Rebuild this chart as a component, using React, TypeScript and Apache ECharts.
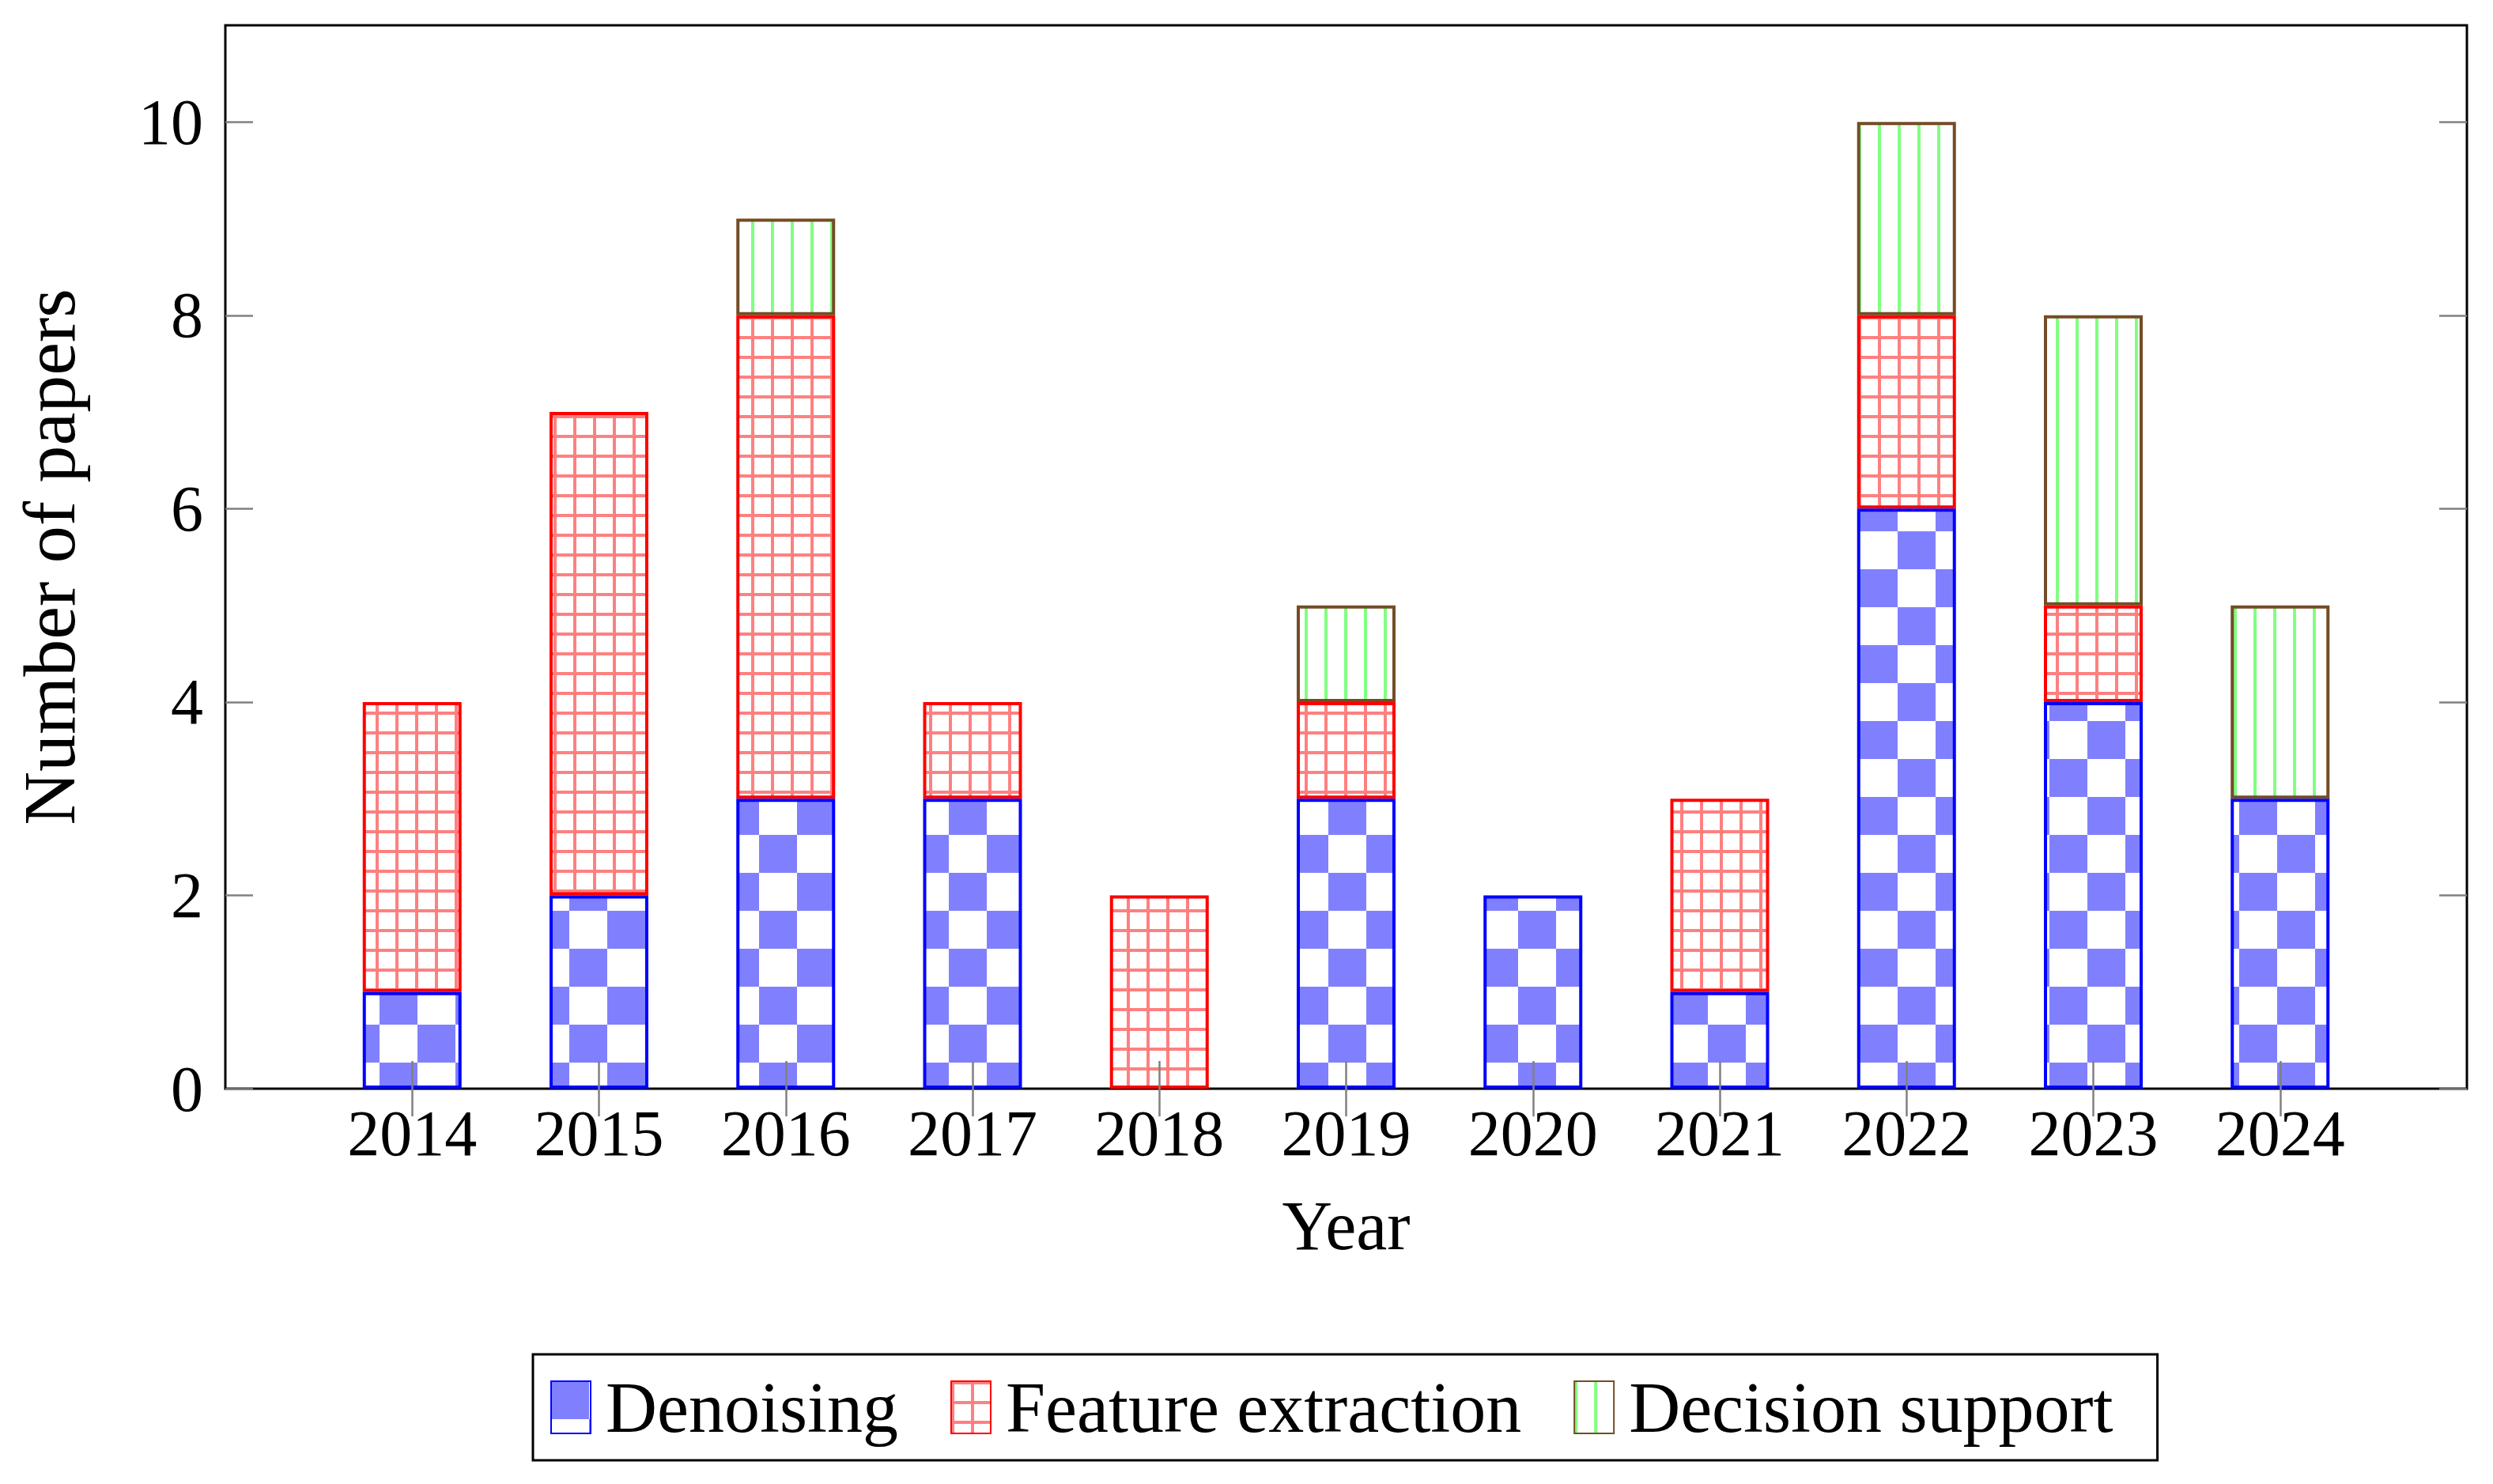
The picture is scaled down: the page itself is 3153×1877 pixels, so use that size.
import React, { useEffect, useRef } from 'react';
import * as echarts from 'echarts';

const years = ['2014', '2015', '2016', '2017', '2018', '2019', '2020', '2021', '2022', '2023', '2024'];
const denoising = [1, 2, 3, 3, 0, 3, 2, 1, 6, 4, 3];
const featureExtraction = [3, 5, 5, 1, 2, 1, 0, 2, 2, 1, 0];
const decisionSupport = [0, 0, 1, 0, 0, 1, 0, 0, 2, 3, 2];
const yTicks = [0, 2, 4, 6, 8, 10];
// padding categories so that the axis spans one year beyond each end
const padBefore = '2013';
const padAfter = '2025';

const FONT = 'Liberation Serif';

function makeTile(w: number, h: number, draw: (c: CanvasRenderingContext2D) => void) {
  const cv = document.createElement('canvas');
  cv.width = w;
  cv.height = h;
  const ctx = cv.getContext('2d')!;
  ctx.fillStyle = '#ffffff';
  ctx.fillRect(0, 0, w, h);
  draw(ctx);
  return cv;
}

export default function App() {
  const ref = useRef<HTMLDivElement>(null);
  useEffect(() => {
    document.body.style.margin = '0';
    const chart = echarts.init(ref.current!, null, { renderer: 'svg' });

    const checker = makeTile(96, 96, (c) => {
      c.fillStyle = '#8080ff';
      c.fillRect(0, 0, 48, 48);
      c.fillRect(48, 48, 48, 48);
    });
    const grid = makeTile(25, 25, (c) => {
      c.fillStyle = '#ff8080';
      c.fillRect(0, 0, 25, 4);
      c.fillRect(0, 0, 4, 25);
    });
    const vlines = makeTile(25, 25, (c) => {
      c.fillStyle = '#80ff80';
      c.fillRect(0, 0, 4, 25);
    });
    const pat = (cv: HTMLCanvasElement) => ({
      image: cv.toDataURL(),
      repeat: 'repeat',
      imageWidth: cv.width,
      imageHeight: cv.height,
    });

    const categories = [padBefore, ...years, padAfter];
    const toData = (arr: number[]) => [null, ...arr.map((v) => (v === 0 ? null : v)), null];
    const isPad = (v: string) => v === padBefore || v === padAfter;

    const tickStyle = { color: '#808080', width: 2.5 };
    const baseX = {
      type: 'category',
      data: categories,
      boundaryGap: false,
      z: 10,
      axisLine: { show: false },
      splitLine: { show: false },
      axisTick: {
        show: true,
        inside: true,
        length: 35,
        lineStyle: tickStyle,
        interval: (_i: number, v: string) => !isPad(v),
      },
    };
    const baseY = {
      type: 'value',
      min: 0,
      max: 11,
      z: 10,
      axisLine: { show: false },
      splitLine: { show: false },
      axisTick: { show: true, inside: true, length: 35, lineStyle: tickStyle, customValues: yTicks },
    };

    chart.setOption({
      animation: false,
      backgroundColor: '#ffffff',
      textStyle: { fontFamily: FONT },
      grid: {
        left: 285,
        right: 33,
        top: 32,
        bottom: 500,
        show: true,
        borderColor: '#000000',
        borderWidth: 3,
        backgroundColor: 'transparent',
      },
      legend: {
        left: 674,
        top: 1713,
        orient: 'horizontal',
        icon: 'rect',
        itemWidth: 50,
        itemHeight: 66,
        itemGap: 66,
        borderColor: '#000000',
        borderWidth: 3,
        padding: [22, 56, 22, 22],
        textStyle: { fontFamily: FONT, fontSize: 90, color: '#000000', padding: [0, 0, 0, 14] },
        data: ['Denoising', 'Feature extraction', 'Decision support'],
      },
      xAxis: [
        {
          ...baseX,
          position: 'bottom',
          axisLabel: {
            show: true,
            interval: (_i: number, v: string) => !isPad(v),
            fontSize: 82,
            color: '#000000',
            fontFamily: FONT,
            margin: 15,
          },
          name: 'Year',
          nameLocation: 'middle',
          nameGap: 129,
          nameTextStyle: { fontSize: 88, color: '#000000', fontFamily: FONT },
        },
        { ...baseX, position: 'top', axisLabel: { show: false } },
      ],
      yAxis: [
        {
          ...baseY,
          position: 'left',
          axisLabel: {
            show: true,
            customValues: yTicks,
            fontSize: 82,
            color: '#000000',
            fontFamily: FONT,
            margin: 28,
          },
          name: 'Number of papers',
          nameLocation: 'middle',
          nameGap: 176,
          nameRotate: 90,
          nameTextStyle: { fontSize: 94, color: '#000000', fontFamily: FONT },
        },
        { ...baseY, position: 'right', axisLabel: { show: false } },
      ],
      series: [
        {
          name: 'Denoising',
          type: 'bar',
          stack: 'total',
          barWidth: 125,
          z: 4,
          data: toData(denoising),
          itemStyle: { color: pat(checker), borderColor: '#0000ff', borderWidth: 4 },
        },
        {
          name: 'Feature extraction',
          type: 'bar',
          stack: 'total',
          barWidth: 125,
          z: 3,
          data: toData(featureExtraction),
          itemStyle: { color: pat(grid), borderColor: '#ff0000', borderWidth: 4 },
        },
        {
          name: 'Decision support',
          type: 'bar',
          stack: 'total',
          barWidth: 125,
          z: 2,
          data: toData(decisionSupport),
          itemStyle: { color: pat(vlines), borderColor: '#744c26', borderWidth: 4 },
        },
      ],
    });
    return () => chart.dispose();
  }, []);
  return <div ref={ref} style={{ width: 3153, height: 1877 }} />;
}
